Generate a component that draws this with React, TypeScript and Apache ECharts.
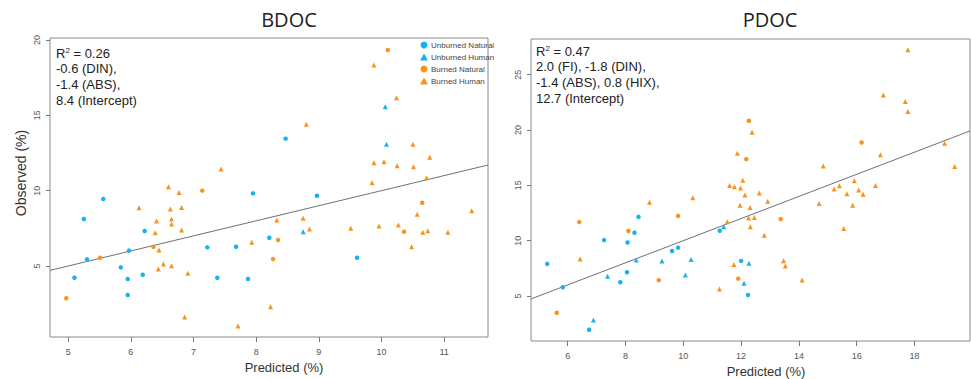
import React, { useEffect, useRef } from "react";
import * as echarts from "echarts";

// ---------- data ----------
const seriesNames = ["Unburned Natural", "Unburned Human", "Burned Natural", "Burned Human"];
const panelTitles = ["BDOC", "PDOC"];
const xLabelText = "Predicted (%)";
const yLabelText = "Observed (%)";

const bdocXTicks = [5, 6, 7, 8, 9, 10, 11];
const bdocYTicks = [5, 10, 15, 20];
const pdocXTicks = [6, 8, 10, 12, 14, 16, 18];
const pdocYTicks = [5, 10, 15, 20, 25];

const bdocRange = { xmin: 4.71, xmax: 11.7, ymin: 0.29, ymax: 20.13 };
const pdocRange = { xmin: 4.73, xmax: 19.92, ymin: 0.93, ymax: 28.23 };

const bdocUN = [[8.47,13.45],[5.56,9.45],[5.25,8.12],[7.95,9.82],[8.97,9.66],[6.22,7.32],[9.61,5.55],[8.21,6.88],[7.68,6.28],[7.22,6.24],[5.97,6.02],[5.30,5.44],[5.84,4.91],[6.19,4.42],[5.10,4.22],[5.95,4.14],[7.38,4.22],[7.87,4.14],[5.95,3.08]];
const bdocUH = [[10.06,15.57],[10.08,13.08],[8.75,7.28]];
const bdocBN = [[10.10,19.33],[7.14,10.0],[10.65,9.20],[10.36,7.28],[8.35,6.73],[6.36,6.28],[5.51,5.55],[8.27,5.46],[4.97,2.86]];
const bdocBH = [[9.88,18.34],[10.24,16.17],[8.80,14.40],[10.50,13.08],[10.77,12.21],[9.88,11.85],[10.04,11.92],[10.25,11.66],[10.51,11.59],[9.85,10.53],[10.72,10.86],[7.44,11.44],[6.60,10.26],[6.77,9.87],[6.13,8.87],[6.63,8.78],[6.81,8.89],[6.65,8.12],[6.41,7.99],[6.65,7.79],[11.44,8.67],[10.57,8.43],[6.39,7.21],[6.81,7.39],[8.75,8.17],[8.33,8.05],[8.85,7.46],[9.51,7.50],[9.96,7.65],[10.27,7.72],[10.66,7.24],[10.74,7.34],[11.06,7.24],[10.48,6.28],[7.93,6.57],[6.45,6.06],[6.52,5.13],[6.65,5.02],[6.44,4.80],[6.91,4.52],[8.23,2.30],[6.86,1.62],[7.71,1.02]];

const pdocUN = [[11.26,10.89],[8.45,12.15],[8.31,10.72],[7.26,10.05],[8.07,9.84],[9.61,9.07],[9.82,9.37],[12.0,8.17],[5.29,7.9],[8.05,7.14],[7.82,6.24],[12.24,5.09],[5.83,5.79],[6.74,1.95]];
const pdocUH = [[11.40,11.25],[8.37,8.26],[9.26,8.17],[10.27,8.29],[12.27,7.96],[7.38,6.78],[10.07,6.9],[12.10,6.15],[6.89,2.83]];
const pdocBN = [[12.27,20.84],[16.17,18.87],[12.18,17.37],[13.37,11.95],[9.82,12.24],[6.40,11.68],[8.10,10.87],[9.15,6.43],[11.90,6.57],[5.62,3.49]];
const pdocBH = [[17.77,27.26],[16.92,23.16],[17.68,22.58],[17.77,21.68],[12.38,19.81],[19.04,18.81],[11.87,17.90],[16.82,17.76],[19.39,16.70],[14.84,16.76],[12.06,15.47],[11.60,14.99],[11.77,14.87],[11.98,14.75],[15.92,15.41],[16.65,14.99],[15.40,14.96],[15.22,14.66],[12.63,14.32],[16.07,14.59],[15.66,14.23],[16.22,14.2],[12.92,13.57],[14.70,13.36],[15.86,13.21],[12.31,13.0],[12.26,12.06],[12.46,12.09],[12.32,11.26],[12.80,10.48],[15.55,11.11],[13.47,8.18],[13.53,7.71],[14.11,6.45],[11.96,13.21],[12.13,14.12],[11.52,11.71],[10.33,13.87],[8.83,13.48],[6.43,8.35],[11.75,7.84],[11.25,5.63]];

const bdocStats = ["R{sup|2} = 0.26", "-0.6 (DIN),", "-1.4 (ABS),", "8.4 (Intercept)"];
const pdocStats = ["R{sup|2} = 0.47", "2.0 (FI), -1.8 (DIN),", "-1.4 (ABS), 0.8 (HIX),", "12.7 (Intercept)"];

// ---------- styles ----------
const BLUE = "#19B2F0";
const ORANGE = "#F7941D";
const colors = [BLUE, BLUE, ORANGE, ORANGE];
const symbols = ["circle", "triangle", "circle", "triangle"];
const symbolSizes = [4.5, 5, 4.5, 5];

export default function App() {
  const ref = useRef<HTMLDivElement>(null);
  useEffect(() => {
    document.body.style.margin = "0";
    const chart = echarts.init(ref.current!, undefined, { renderer: "svg" });

    const grids = [
      { left: 50, top: 38, width: 438, height: 299 },
      { left: 531, top: 39, width: 439, height: 302 },
    ];
    const ranges = [bdocRange, pdocRange];
    const xTicks = [bdocXTicks, pdocXTicks];
    const yTicks = [bdocYTicks, pdocYTicks];
    const panelData = [
      [bdocUN, bdocUH, bdocBN, bdocBH],
      [pdocUN, pdocUH, pdocBN, pdocBH],
    ];
    const stats = [bdocStats, pdocStats];
    const statsPos = [[56, 46], [536, 44]];

    const axisTextStyle = { color: "#555", fontSize: 9, fontFamily: "Liberation Sans, Arial, sans-serif" };

    const xAxis = [0, 1].map((i) => ({
      type: "value",
      gridIndex: i,
      min: ranges[i].xmin,
      max: ranges[i].xmax,
      splitLine: { show: false },
      axisLine: { show: false },
      axisTick: { show: true, customValues: xTicks[i], length: 5, lineStyle: { color: "#777" } },
      axisLabel: { customValues: xTicks[i], margin: 10, ...axisTextStyle },
    }));
    const yAxis = [0, 1].map((i) => ({
      type: "value",
      gridIndex: i,
      min: ranges[i].ymin,
      max: ranges[i].ymax,
      splitLine: { show: false },
      axisLine: { show: false },
      axisTick: { show: true, customValues: yTicks[i], length: 4, lineStyle: { color: "#777" } },
      axisLabel: { customValues: yTicks[i], rotate: 90, margin: 9, ...axisTextStyle },
    }));

    const series: any[] = [];
    [0, 1].forEach((p) => {
      panelData[p].forEach((d, k) => {
        series.push({
          type: "scatter",
          name: seriesNames[k],
          xAxisIndex: p,
          yAxisIndex: p,
          data: d,
          symbol: symbols[k],
          symbolSize: symbolSizes[k],
          itemStyle: { color: colors[k], opacity: 1 },
          z: 3,
        });
      });
      const r = ranges[p];
      series.push({
        type: "line",
        xAxisIndex: p,
        yAxisIndex: p,
        data: [[r.xmin, r.xmin], [r.xmax, r.xmax]],
        symbol: "none",
        lineStyle: { color: "#707070", width: 1 },
        silent: true,
        z: 2,
      });
    });

    const graphics: any[] = [];
    [0, 1].forEach((p) => {
      stats[p].forEach((line, j) => {
        graphics.push({
          type: "text",
          left: statsPos[p][0],
          top: statsPos[p][1] + j * 16,
          style: {
            text: line,
            fontSize: 13,
            fill: "#222",
            fontFamily: "Liberation Sans, Arial, sans-serif",
            rich: { sup: { fontSize: 8, verticalAlign: "top", padding: [0, 0, 7, 0], fill: "#222" } },
          },
        });
      });
    });
    graphics.push({
      type: "text", x: 284, y: 367,
      style: { text: xLabelText, fontSize: 13, fill: "#333", align: "center", verticalAlign: "middle", fontFamily: "Liberation Sans, Arial, sans-serif" },
    });
    graphics.push({
      type: "text", x: 766, y: 371,
      style: { text: xLabelText, fontSize: 13, fill: "#333", align: "center", verticalAlign: "middle", fontFamily: "Liberation Sans, Arial, sans-serif" },
    });
    graphics.push({
      type: "text", x: 21, y: 173, rotation: Math.PI / 2,
      style: { text: yLabelText, fontSize: 14, fill: "#333", align: "center", verticalAlign: "middle", fontFamily: "Liberation Sans, Arial, sans-serif" },
    });

    chart.setOption({
      animation: false,
      backgroundColor: "#fff",
      title: [
        { text: panelTitles[0], left: 284, top: 4, textAlign: "center", textStyle: { fontSize: 20, fontWeight: "normal", color: "#222", fontFamily: "Open Sans, sans-serif" } },
        { text: panelTitles[1], left: 765, top: 4, textAlign: "center", textStyle: { fontSize: 20, fontWeight: "normal", color: "#222", fontFamily: "Open Sans, sans-serif" } },
      ],
      legend: {
        orient: "vertical",
        left: 420,
        top: 41,
        padding: 0,
        itemWidth: 8,
        itemHeight: 7,
        itemGap: 4,
        textStyle: { fontSize: 8, color: "#444", fontFamily: "Liberation Sans Narrow, Liberation Sans, Arial, sans-serif", padding: [0, 0, 0, -2] },
        data: seriesNames.map((n, k) => ({ name: n, icon: symbols[k] })),
        selectedMode: false,
      },
      grid: grids.map((g) => ({ ...g, show: true, borderColor: "#8a8a8a", borderWidth: 1, backgroundColor: "transparent" })),
      xAxis,
      yAxis,
      series,
      graphic: graphics,
    });
    return () => chart.dispose();
  }, []);
  return <div ref={ref} style={{ width: 971, height: 379 }} />;
}
